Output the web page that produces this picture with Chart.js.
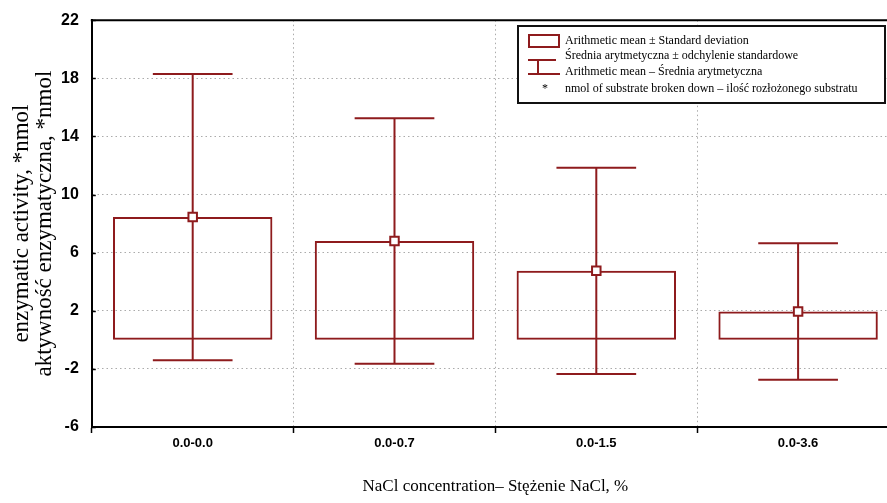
<!DOCTYPE html>
<html>
<head>
<meta charset="utf-8">
<script src="https://cdn.jsdelivr.net/npm/chart.js@4.4.1/dist/chart.umd.min.js"></script>
<style>
  html, body { margin: 0; padding: 0; background: #fff; overflow: hidden; }
  #wrap { width: 907px; height: 503px; position: relative; }
</style>
</head>
<body>
<div id="wrap"><canvas id="c"></canvas></div>
<script>
// dane
const categories = ['0.0-0.0', '0.0-0.7', '0.0-1.5', '0.0-3.6'];
const means = [8.45, 6.8, 4.75, 1.95];
const sds = [9.85, 8.45, 7.1, 4.7];
const yTicks = [-6, -2, 2, 6, 10, 14, 18, 22];

const RED = '#8e1b1d';

// wąsy: średnia ± odchylenie standardowe
const whiskers = {
    id: 'whiskers',
    beforeDatasetsDraw(chart) {
        const ctx = chart.ctx;
        const x = chart.scales.x, y = chart.scales.y;
        const meta = chart.getDatasetMeta(1);
        ctx.save();
        ctx.strokeStyle = RED;
        ctx.lineWidth = 2;
        means.forEach((m, i) => {
            const bar = meta.data[i];
            const cx = x.getPixelForValue(i);
            const half = bar.width / 4;
            const top = y.getPixelForValue(m + sds[i]);
            const bot = y.getPixelForValue(m - sds[i]);
            ctx.beginPath();
            ctx.moveTo(cx, top); ctx.lineTo(cx, bot);
            ctx.moveTo(cx - half, top); ctx.lineTo(cx + half, top);
            ctx.moveTo(cx - half, bot); ctx.lineTo(cx + half, bot);
            ctx.stroke();
        });
        ctx.restore();
    }
};

// górna ramka, krótkie kreski na osi Y i legenda
const frame = {
    id: 'frame',
    afterDraw(chart) {
        const ctx = chart.ctx;
        const a = chart.chartArea, y = chart.scales.y;
        ctx.save();
        ctx.strokeStyle = '#000';
        ctx.lineWidth = 2;
        ctx.beginPath();
        ctx.moveTo(a.left - 1, a.top); ctx.lineTo(a.right, a.top);
        ctx.stroke();
        ctx.lineWidth = 1.5;
        yTicks.forEach(v => {
            const py = Math.round(y.getPixelForValue(v)) + 0.5;
            ctx.beginPath();
            ctx.moveTo(a.left, py); ctx.lineTo(a.left + 4, py);
            ctx.stroke();
        });

        // legenda
        const lx = 518, ly = 26, lw = 367, lh = 77;
        ctx.fillStyle = '#fff';
        ctx.fillRect(lx, ly, lw, lh);
        ctx.lineWidth = 2;
        ctx.strokeStyle = '#111';
        ctx.strokeRect(lx, ly, lw, lh);

        ctx.strokeStyle = RED;
        ctx.lineWidth = 2;
        ctx.strokeRect(529, 35, 30, 12);
        ctx.beginPath();
        ctx.moveTo(528, 60); ctx.lineTo(556, 60);
        ctx.moveTo(538, 60); ctx.lineTo(538, 74);
        ctx.moveTo(528, 74); ctx.lineTo(560, 74);
        ctx.stroke();

        ctx.fillStyle = '#000';
        ctx.font = '12px "Liberation Serif", "Times New Roman", serif';
        ctx.textBaseline = 'middle';
        ctx.fillText('*', 542, 89);
        ctx.fillText('Arithmetic mean \u00b1 Standard deviation', 565, 41);
        ctx.fillText('\u015arednia arytmetyczna \u00b1 odchylenie standardowe', 565, 56);
        ctx.fillText('Arithmetic mean \u2013 \u015arednia arytmetyczna', 565, 72);
        ctx.fillText('nmol of substrate broken down \u2013 ilo\u015b\u0107 roz\u0142o\u017conego substratu', 565, 89);
        ctx.restore();
    }
};

new Chart(document.getElementById('c'), {
    type: 'bar',
    data: {
        labels: categories,
        datasets: [
            {
                type: 'line',
                data: means,
                showLine: false,
                pointStyle: 'rect',
                pointRadius: 6,
                pointBackgroundColor: '#fff',
                pointBorderColor: RED,
                pointBorderWidth: 2,
                order: 0
            },
            {
                data: means.map(m => [0, m]),
                backgroundColor: 'rgba(0,0,0,0)',
                borderColor: RED,
                borderWidth: 2,
                borderSkipped: false,
                categoryPercentage: 1,
                barPercentage: 0.79,
                order: 1
            }
        ]
    },
    options: {
        responsive: true,
        maintainAspectRatio: false,
        animation: false,
        layout: { padding: { left: 6, top: 19, right: 3, bottom: 6 } },
        plugins: { legend: { display: false }, tooltip: { enabled: false } },
        scales: {
            x: {
                offset: true,
                grid: {
                    offset: true,
                    color: '#ababab',
                    tickColor: '#000',
                    tickLength: 6,
                    tickBorderDash: [],
                    tickWidth: 1.5
                },
                border: { color: '#000', width: 2, dash: [1.5, 3] },
                ticks: {
                    color: '#000',
                    padding: 3,
                    font: { family: '"Liberation Sans", Arial, sans-serif', size: 13, weight: 'bold' }
                },
                title: {
                    display: true,
                    text: 'NaCl concentration\u2013 St\u0119\u017cenie NaCl, %',
                    color: '#000',
                    padding: { top: 22, bottom: 0 },
                    font: { family: '"Liberation Serif", "Times New Roman", serif', size: 17 }
                }
            },
            y: {
                min: -6,
                max: 22,
                afterBuildTicks: axis => { axis.ticks = yTicks.map(v => ({ value: v })); },
                grid: {
                    drawTicks: false,
                    color: c => (c.tick && (c.tick.value === 22 || c.tick.value === -6)) ? 'rgba(0,0,0,0)' : '#ababab'
                },
                border: { color: '#000', width: 2, dash: [1.5, 3] },
                ticks: {
                    color: '#000',
                    padding: 13,
                    font: { family: '"Liberation Sans", Arial, sans-serif', size: 16, weight: 'bold', lineHeight: 0.9 }
                },
                title: {
                    display: true,
                    text: ['enzymatic activity, *nmol', 'aktywno\u015b\u0107 enzymatyczna, *nmol'],
                    color: '#000',
                    padding: { top: 4, bottom: -8 },
                    font: { family: '"Liberation Serif", "Times New Roman", serif', size: 23, lineHeight: 1.0 }
                }
            }
        }
    },
    plugins: [whiskers, frame]
});
</script>
</body>
</html>
